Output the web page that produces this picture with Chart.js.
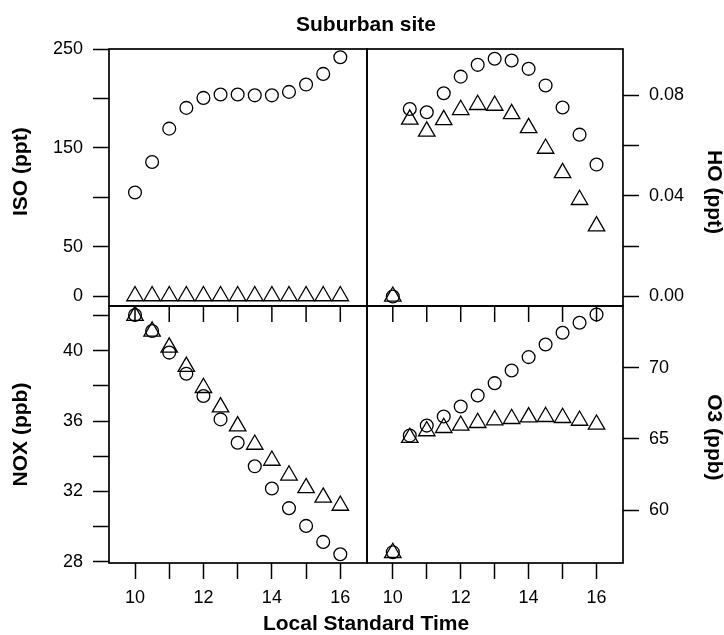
<!DOCTYPE html>
<html>
<head>
<meta charset="utf-8">
<script src="https://cdn.jsdelivr.net/npm/chart.js@4.4.1/dist/chart.umd.min.js"></script>
<style>
html,body{margin:0;padding:0;background:#fff;}
#c{display:block;}
</style>
</head>
<body>
<canvas id="c" width="724" height="635"></canvas>
<script>
// ---- data ----
const times = [10, 10.5, 11, 11.5, 12, 12.5, 13, 13.5, 14, 14.5, 15, 15.5, 16];

const isoCircles   = [104.8, 135.6, 169.4, 190.4, 200.5, 203.9, 203.9, 203.1, 203.1, 206.6, 214.0, 224.8, 241.7];
const isoTriangles = [0, 0, 0, 0, 0, 0, 0, 0, 0, 0, 0, 0, 0];

const hoCircles   = [0, 0.0746, 0.0733, 0.0809, 0.0875, 0.0922, 0.0946, 0.0939, 0.0906, 0.0840, 0.0752, 0.0644, 0.0525];
const hoTriangles = [0, 0.0705, 0.0657, 0.0703, 0.0743, 0.0763, 0.0760, 0.0727, 0.0671, 0.0589, 0.0492, 0.0385, 0.0280];

const noxCircles   = [42.04, 41.13, 39.90, 38.70, 37.43, 36.10, 34.77, 33.43, 32.17, 31.05, 30.04, 29.13, 28.43];
const noxTriangles = [42.00, 41.11, 40.20, 39.10, 37.90, 36.80, 35.72, 34.67, 33.76, 32.92, 32.20, 31.66, 31.20];

const o3Circles   = [57.04, 65.23, 65.93, 66.57, 67.27, 68.04, 68.91, 69.80, 70.74, 71.63, 72.45, 73.15, 73.73];
const o3Triangles = [57.00, 65.08, 65.55, 65.78, 65.94, 66.13, 66.32, 66.41, 66.53, 66.55, 66.48, 66.29, 66.01];

// ---- ticks ----
const timeTicks  = [10, 11, 12, 13, 14, 15, 16];
const timeLabels = [10, 12, 14, 16];
const isoTicks   = [0, 50, 100, 150, 200, 250];
const isoLabels  = [0, 50, 150, 250];
const hoTicks    = [0, 0.02, 0.04, 0.06, 0.08];
const hoLabels   = [0, 0.04, 0.08];
const noxTicks   = [28, 30, 32, 34, 36, 38, 40, 42];
const noxLabels  = [28, 32, 36, 40];
const o3Ticks    = [60, 65, 70];
const o3Labels   = [60, 65, 70];

const FONT = "'Liberation Sans', Arial, Helvetica, sans-serif";
const INK = '#000';

const pts = (ys) => times.map((t, i) => ({x: t, y: ys[i]}));

function circleSet(label, ys, xAxisID, yAxisID) {
  return {label, data: pts(ys), xAxisID, yAxisID, pointStyle: 'circle', pointRadius: 6.4,
    pointBorderWidth: 1.3, borderColor: INK, pointBorderColor: INK, backgroundColor: 'rgba(0,0,0,0)',
    pointBackgroundColor: 'rgba(0,0,0,0)', showLine: false};
}
function triSet(label, ys, xAxisID, yAxisID) {
  return {label, data: pts(ys), xAxisID, yAxisID, pointStyle: 'triangle', pointRadius: 9.5,
    pointBorderWidth: 1.3, borderColor: INK, pointBorderColor: INK, backgroundColor: 'rgba(0,0,0,0)',
    pointBackgroundColor: 'rgba(0,0,0,0)', showLine: false};
}

function fixedTicks(arr) {
  return (scale) => { scale.ticks = arr.map(v => ({value: v})); };
}
function labelCb(labels, fmt) {
  return (v) => labels.some(l => Math.abs(l - v) < 1e-9) ? fmt(v) : '';
}

const tickFont = {family: FONT, size: 18};
const titleFont = {family: FONT, size: 21, weight: 'bold'};
const gridOpts = {drawOnChartArea: false, drawTicks: true, tickLength: 16, tickWidth: 1.5, tickColor: INK};

function yAxis(position, min, max, tickArr, labels, fmt, title, titlePad) {
  return {
    type: 'linear', position, stack: position === 'left' ? 'yl' : 'yr', stackWeight: 1,
    min, max,
    afterBuildTicks: fixedTicks(tickArr),
    afterFit: (s) => { s.width = position === 'left' ? 109 : 101; },
    grid: gridOpts,
    border: {display: false},
    ticks: {font: tickFont, color: INK, padding: 10, autoSkip: false, callback: labelCb(labels, fmt)},
    title: {display: true, text: title, font: titleFont, color: INK, padding: titlePad}
  };
}
function xAxis(weight) {
  return {
    type: 'linear', position: 'bottom', stack: 'x', stackWeight: weight,
    min: 9.24, max: 16.78,
    afterBuildTicks: fixedTicks(timeTicks),
    afterFit: (s) => { s.height = 48; },
    grid: gridOpts,
    border: {display: false},
    ticks: {font: tickFont, color: INK, padding: 8, autoSkip: false, maxRotation: 0, minRotation: 0,
      callback: labelCb(timeLabels, v => String(v))}
  };
}

const panelFrame = {
  id: 'panelFrame',
  beforeDatasetsDraw(chart) {
    const {ctx, scales} = chart;
    ctx.save();
    ctx.strokeStyle = INK;
    ctx.lineWidth = 1.7;
    [['xL', 'yTL'], ['xL', 'yBL'], ['xR', 'yTR'], ['xR', 'yBR']].forEach(([xa, ya]) => {
      const xs = scales[xa], ys = scales[ya];
      ctx.strokeRect(xs.left, ys.top, xs.right - xs.left, ys.bottom - ys.top);
    });
    // tick marks along the divider, pointing into the lower panels
    ctx.lineWidth = 1.5;
    const yTop = scales.yBL.top;
    ['xL', 'xR'].forEach(k => {
      const s = scales[k];
      timeTicks.forEach(v => {
        const px = s.getPixelForValue(v);
        ctx.beginPath();
        ctx.moveTo(px, yTop);
        ctx.lineTo(px, yTop + 16);
        ctx.stroke();
      });
    });
    ctx.restore();
  }
};

new Chart(document.getElementById('c'), {
  type: 'scatter',
  data: {
    datasets: [
      circleSet('ISO circles', isoCircles, 'xL', 'yTL'),
      triSet('ISO triangles', isoTriangles, 'xL', 'yTL'),
      circleSet('NOX circles', noxCircles, 'xL', 'yBL'),
      triSet('NOX triangles', noxTriangles, 'xL', 'yBL'),
      circleSet('HO circles', hoCircles, 'xR', 'yTR'),
      triSet('HO triangles', hoTriangles, 'xR', 'yTR'),
      circleSet('O3 circles', o3Circles, 'xR', 'yBR'),
      triSet('O3 triangles', o3Triangles, 'xR', 'yBR')
    ]
  },
  options: {
    responsive: false,
    devicePixelRatio: 1,
    animation: false,
    events: [],
    layout: {padding: 0},
    scales: {
      xL: xAxis(258),
      xR: xAxis(256),
      yBL: yAxis('left', 27.93, 42.55, noxTicks, noxLabels, v => String(v), 'NOX (ppb)', {top: 8.4, bottom: 0}),
      yTL: yAxis('left', -10.1, 250, isoTicks, isoLabels, v => String(v), '  ISO (ppt)', {top: 8.4, bottom: 0}),
      yTR: yAxis('right', -0.0038, 0.0985, hoTicks, hoLabels, v => v.toFixed(2), '     HO (ppt)', {top: -2, bottom: 0}),
      yBR: yAxis('right', 56.28, 74.33, o3Ticks, o3Labels, v => String(v), ' O3 (ppb)', {top: -2, bottom: 0})
    },
    plugins: {
      legend: {display: false},
      tooltip: {enabled: false},
      title: {display: true, text: 'Suburban site', fullSize: false, color: INK,
        font: {family: FONT, size: 21, weight: 'bold'}, padding: {top: 12.5, bottom: 11.3}},
      subtitle: {display: true, text: 'Local Standard Time', position: 'bottom', fullSize: false, color: INK,
        font: {family: FONT, size: 21, weight: 'bold', lineHeight: 1}, padding: {top: 3, bottom: 0}}
    }
  },
  plugins: [panelFrame]
});
</script>
</body>
</html>
